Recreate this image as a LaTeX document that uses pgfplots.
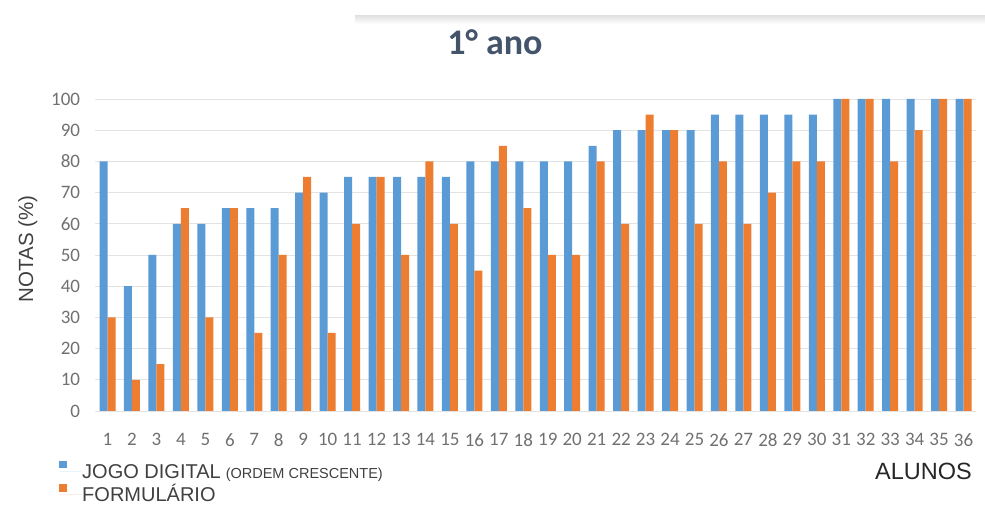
\documentclass[border=0pt]{standalone}
\usepackage{pgfplots}
\usepackage{pgfplotstable}
\pgfplotsset{compat=1.18}
\usepackage{fontspec}
\setmainfont{Liberation Sans}
\newfontfamily\calfont{Carlito}
\definecolor{cblue}{HTML}{5B9BD5}
\definecolor{corange}{HTML}{ED7D31}
\definecolor{ttl}{HTML}{44546A}
\definecolor{ticktxt}{HTML}{707070}
\definecolor{lbl}{HTML}{404040}
\definecolor{gridc}{HTML}{E3E3E3}

\pgfplotstableread{
x jogo form
1 80 30
2 40 10
3 50 15
4 60 65
5 60 30
6 65 65
7 65 25
8 65 50
9 70 75
10 70 25
11 75 60
12 75 75
13 75 50
14 75 80
15 75 60
16 80 45
17 80 85
18 80 65
19 80 50
20 80 50
21 85 80
22 90 60
23 90 95
24 90 90
25 90 60
26 95 80
27 95 60
28 95 70
29 95 80
30 95 80
31 100 100
32 100 100
33 100 80
34 100 90
35 100 100
36 100 100
}\data

\begin{document}
\begin{tikzpicture}[x=1pt,y=1pt]
\path[use as bounding box] (0,0) rectangle (985,505);
\shade[top color=black!11, bottom color=white] (355,489) rectangle (985,481);
\begin{axis}[
  at={(95.3pt,94pt)}, anchor=south west,
  scale only axis, width=880.5pt, height=312pt,
  xmin=0.5, xmax=36.5, ymin=0, ymax=100,
  ybar=0pt, bar width=8pt,
  axis line style={draw=none},
  major tick length=0pt,
  ymajorgrids, grid style={color=gridc, line width=0.9pt},
  xtick={1,...,36}, ytick={0,10,...,100},
  /pgf/number format/assume math mode=true,
  ticklabel style={font=\calfont\fontsize{19}{19}\selectfont, text=ticktxt},
  yticklabel style={anchor=east, inner sep=0pt, xshift=-15pt},
  xticklabel style={anchor=north, inner sep=0pt, yshift=-22pt},
  clip=false,
  legend style={at={(rel axis cs:-0.0412,-0.158)}, anchor=north west,
    draw=none, fill=none, inner sep=0pt, row sep=1.5pt,
    font=\fontsize{20}{20}\selectfont,
    nodes={inner sep=0pt, text=lbl, text height=18pt, text depth=4pt}},
  legend cell align=left,
  legend image code/.code={\fill[#1,draw=none] (0pt,3pt) rectangle (8pt,10.5pt); \path (0pt,0pt) -- (23pt,0pt);},
]
\addplot[fill=cblue, draw=none] table[x=x,y=jogo]{\data};
\addlegendentry{JOGO DIGITAL\hspace{5pt}{\fontsize{14.5}{14.5}\selectfont (ORDEM CRESCENTE)}}
\addplot[fill=corange, draw=none] table[x=x,y=form]{\data};
\addlegendentry{FORMULÁRIO}
\end{axis}
\node[font=\calfont\bfseries\fontsize{36}{36}\selectfont, text=ttl, anchor=base] at (495,450) {1° ano};
\node[font=\fontsize{20.5}{20.5}\selectfont, text=lbl, rotate=90, anchor=base, inner sep=0pt] at (33,256) {NOTAS (\%)};
\node[font=\fontsize{23.5}{23.5}\selectfont, text=black!85, anchor=base west, inner sep=0pt] at (875,25) {ALUNOS};
\end{tikzpicture}
\end{document}
